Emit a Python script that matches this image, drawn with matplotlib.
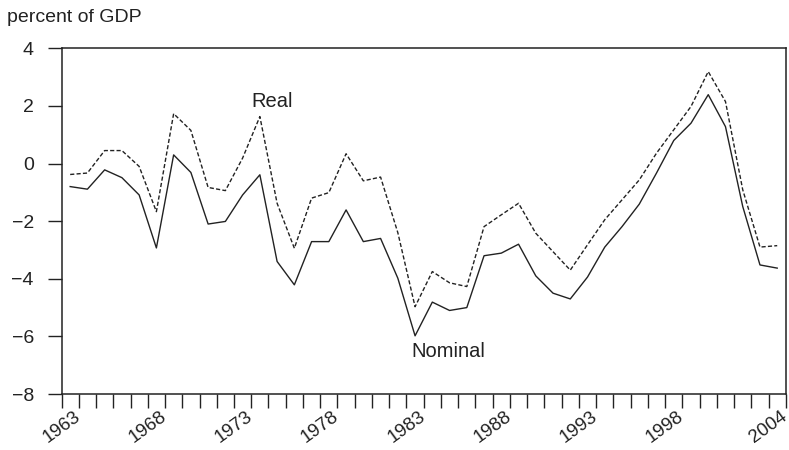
import numpy as np
import matplotlib
matplotlib.use('Agg')
import matplotlib.pyplot as plt
from matplotlib.transforms import ScaledTranslation

plt.rcParams['font.family'] = ['Liberation Sans', 'DejaVu Sans']

# data, percent of GDP
years = np.arange(1963, 2005)
nominal = [-0.80, -0.89, -0.22, -0.49, -1.09, -2.93, 0.30, -0.31, -2.10, -2.01,
           -1.09, -0.39, -3.40, -4.21, -2.71, -2.71, -1.61, -2.71, -2.60, -3.98,
           -5.98, -4.81, -5.10, -5.00, -3.20, -3.11, -2.80, -3.90, -4.50, -4.70,
           -3.94, -2.90, -2.19, -1.41, -0.33, 0.80, 1.40, 2.39, 1.28, -1.49, -3.52, -3.63]
real = [-0.38, -0.33, 0.45, 0.45, -0.10, -1.67, 1.73, 1.15, -0.83, -0.94,
        0.19, 1.63, -1.38, -2.94, -1.20, -1.01, 0.34, -0.60, -0.47, -2.40,
        -4.97, -3.75, -4.14, -4.27, -2.19, -1.78, -1.38, -2.42, -3.06, -3.70,
        -2.82, -1.95, -1.26, -0.57, 0.36, 1.17, 1.98, 3.19, 2.15, -0.91, -2.90, -2.85]
label_years = [1963, 1968, 1973, 1978, 1983, 1988, 1993, 1998, 2004]
yticks = [-8, -6, -4, -2, 0, 2, 4]

col = '#222222'
fig = plt.figure(figsize=(7.89, 4.5), dpi=100)
ax = fig.add_axes([0.078, 0.1244, 0.918, 0.7683])

# values are annual, plotted at mid-year
ax.plot(years + 0.5, nominal, '-', color=col, lw=1.0)
ax.plot(years + 0.5, real, color=col, lw=1.0, linestyle=(0, (3, 1.6)))

ax.set_xlim(1963, 2005)
ax.set_ylim(-8, 4)
ax.set_yticks(yticks)
ax.set_yticklabels(['\u2212%d' % -v if v < 0 else str(v) for v in yticks])

ax.set_xticks(np.arange(1963, 2006))
ax.set_xticklabels([str(y) if y in label_years else '' for y in range(1963, 2006)],
                   rotation=36, fontsize=13.5)
# nudge the year labels a little to the left, as in the original
shift = ScaledTranslation(-5 / 100, 0, fig.dpi_scale_trans)
for lbl in ax.get_xticklabels():
    lbl.set_transform(lbl.get_transform() + shift)

for s in ax.spines.values():
    s.set_linewidth(1.1)
    s.set_color(col)
ax.tick_params(axis='both', direction='out', length=10, width=1.0, color=col,
               labelcolor=col)
ax.tick_params(axis='y', pad=10, labelsize=14)
ax.tick_params(axis='x', pad=0)

ax.text(1975.2, 2.14, 'Real', fontsize=14.5, color=col, ha='center', va='center')
ax.text(1985.4, -6.54, 'Nominal', fontsize=14.5, color=col, ha='center', va='center')

fig.text(0.009, 0.951, 'percent of GDP', fontsize=14, color=col, ha='left', va='baseline')

plt.savefig('out.png', dpi=100)
